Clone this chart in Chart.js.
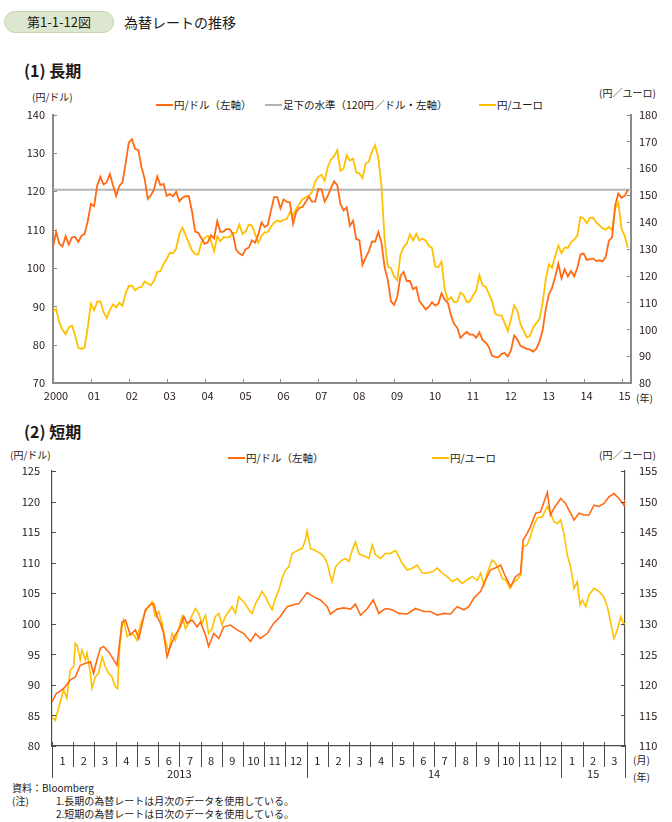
<!DOCTYPE html>
<html lang="ja">
<head>
<meta charset="utf-8">
<script src="https://cdn.jsdelivr.net/npm/chart.js@4.4.1/dist/chart.umd.min.js"></script>
<style>
  html, body { margin: 0; padding: 0; background: #fff; }
  body { width: 672px; height: 822px; position: relative; overflow: hidden;
         font-family: "Noto Sans CJK JP", sans-serif; color: #231815; }
  .t { position: absolute; white-space: nowrap; line-height: 14px; }
  .pill { position: absolute; left: 4px; top: 11px; width: 110px; height: 22px; border-radius: 11px;
          background: #dde7cf; border: 1px solid #c6d5b0; box-sizing: border-box;
          font-size: 13px; line-height: 20px; text-align: center; }
  .h2 { font-size: 16px; font-weight: bold; }
  .sm { font-size: 10px; }
  .lg { font-size: 10.5px; }
  .sw { display: inline-block; width: 17px; height: 2.5px; vertical-align: middle; margin-right: 1px; position: relative; top: -1px; }
  canvas { position: absolute; left: 0; }
</style>
</head>
<body>
<div class="pill">第1-1-12図</div>
<div class="t" style="left:124px; top:15px; font-size:14px;">為替レートの推移</div>

<div class="t h2" style="left:24px; top:63px;">(1) 長期</div>
<div class="t sm" style="left:32px; top:90px;">(円/ドル)</div>
<div class="t sm" style="left:599px; top:86px;">(円／ユーロ)</div>
<div class="t lg" style="left:156px; top:98px;"><span class="sw" style="background:#ff6a13"></span>円/ドル（左軸）</div>
<div class="t lg" style="left:265px; top:98px;"><span class="sw" style="background:#b4b4b4"></span>足下の水準（120円／ドル・左軸）</div>
<div class="t lg" style="left:479px; top:98px;"><span class="sw" style="background:#ffc000"></span>円/ユーロ</div>
<div class="t sm" style="left:636px; top:391px;">(年)</div>

<div class="t h2" style="left:24px; top:424px;">(2) 短期</div>
<div class="t sm" style="left:10px; top:448px;">(円/ドル)</div>
<div class="t sm" style="left:599px; top:448px;">(円／ユーロ)</div>
<div class="t lg" style="left:228px; top:451px;"><span class="sw" style="background:#ff6a13"></span>円/ドル（左軸）</div>
<div class="t lg" style="left:432px; top:451px;"><span class="sw" style="background:#ffc000"></span>円/ユーロ</div>
<div class="t sm" style="left:633px; top:753px;">(月)</div>
<div class="t sm" style="left:633px; top:770px;">(年)</div>

<div class="t sm" style="left:12px; top:781px;">資料：Bloomberg</div>
<div class="t sm" style="left:12px; top:794px;">(注)</div>
<div class="t sm" style="left:56px; top:794px;">1.長期の為替レートは月次のデータを使用している。</div>
<div class="t sm" style="left:56px; top:807px;">2.短期の為替レートは日次のデータを使用している。</div>

<canvas id="longChart" width="672" height="310" style="top:100px"></canvas>
<canvas id="shortChart" width="672" height="350" style="top:440px"></canvas>

<script>
// ---- (1) long term, monthly, Jan 2000 - Mar 2015 ----
const yearLabels = ['2000', '01', '02', '03', '04', '05', '06', '07', '08', '09', '10', '11', '12', '13', '14', '15'];

const usdMonthly = [
  105.3, 109.4, 106.3, 105.6, 108.3, 106.1, 108.0, 108.1, 106.8, 108.4, 108.9, 112.2,
  116.7, 116.1, 121.5, 123.8, 121.8, 122.3, 124.5, 121.5, 118.8, 121.4, 122.3, 127.3,
  132.7, 133.6, 131.0, 130.8, 126.4, 123.3, 118.0, 119.0, 120.5, 123.9, 121.6, 121.9,
  118.8, 119.3, 118.7, 119.9, 117.4, 118.3, 118.7, 118.7, 114.8, 109.5, 109.2, 107.7,
  106.3, 106.7, 108.5, 107.7, 112.2, 109.4, 109.5, 110.2, 110.1, 108.8, 104.7, 103.8,
  103.3, 104.9, 105.3, 107.2, 106.6, 108.7, 111.9, 110.7, 111.2, 114.9, 118.5, 118.5,
  115.5, 117.9, 117.3, 117.1, 111.5, 114.6, 115.7, 115.9, 117.2, 118.6, 117.3, 117.3,
  120.6, 120.5, 117.3, 118.8, 120.8, 122.6, 121.6, 116.7, 115.0, 115.8, 111.0, 112.3,
  107.6, 107.2, 100.8, 102.7, 104.4, 106.9, 106.9, 109.4, 106.6, 100.1, 96.9, 91.3,
  90.4, 92.5, 97.9, 99.0, 96.6, 96.6, 94.5, 95.0, 91.4, 90.3, 89.2, 89.9,
  91.1, 90.2, 90.7, 93.4, 91.8, 90.9, 87.7, 85.4, 84.4, 81.8, 82.6, 83.3,
  82.6, 82.6, 81.8, 83.2, 81.2, 80.5, 79.4, 77.1, 76.8, 76.7, 77.6, 77.8,
  76.9, 78.5, 82.4, 81.4, 79.7, 79.3, 78.9, 78.7, 78.2, 78.9, 80.8, 83.6,
  89.2, 93.1, 94.8, 97.7, 101.1, 97.3, 99.7, 97.8, 99.2, 97.8, 100.0, 103.5,
  103.8, 102.1, 102.3, 102.5, 101.8, 102.0, 101.7, 102.9, 107.1, 108.0, 116.3, 119.4,
  118.3, 118.8, 120.4
];

const eurMonthly = [
  106.5, 107.6, 102.6, 99.9, 98.1, 100.7, 101.4, 97.8, 93.1, 92.7, 93.3, 100.6,
  109.6, 107.1, 110.3, 110.4, 106.5, 104.3, 107.2, 109.3, 108.2, 109.9, 108.7, 113.4,
  116.2, 116.3, 114.6, 115.5, 115.8, 117.8, 117.1, 116.4, 118.2, 121.4, 121.6, 124.3,
  126.2, 128.5, 128.3, 130.1, 135.7, 137.9, 135.0, 132.2, 129.4, 128.0, 127.9, 132.4,
  134.1, 134.9, 133.0, 129.1, 134.6, 132.8, 134.4, 134.2, 134.5, 135.9, 136.0, 139.1,
  135.5, 136.5, 139.0, 138.7, 135.4, 132.3, 134.7, 136.1, 136.2, 138.2, 139.7, 140.5,
  140.1, 140.8, 141.1, 143.7, 142.4, 145.0, 146.7, 148.5, 149.2, 149.7, 151.1, 155.0,
  156.8, 157.6, 155.3, 160.5, 163.2, 164.5, 166.8, 159.0, 159.9, 164.8, 162.9, 163.6,
  158.4, 158.1, 156.4, 161.8, 162.5, 166.3, 168.6, 163.9, 153.2, 133.3, 123.4, 122.8,
  119.7, 118.3, 127.7, 130.6, 131.9, 135.4, 133.1, 135.6, 133.1, 133.8, 133.0, 131.1,
  130.3, 123.4, 123.1, 125.3, 115.3, 110.9, 112.0, 110.1, 110.3, 113.7, 112.8, 110.1,
  110.4, 112.7, 114.4, 120.2, 116.3, 115.9, 113.3, 110.6, 105.8, 105.2, 105.2, 102.3,
  99.3, 103.8, 108.9, 107.1, 101.9, 99.5, 97.0, 97.6, 100.6, 102.3, 103.7, 109.7,
  118.6, 124.2, 122.9, 127.2, 131.2, 128.4, 130.5, 130.3, 132.4, 133.4, 134.9, 141.8,
  141.3, 139.5, 141.5, 141.6, 139.8, 138.7, 137.7, 137.1, 138.2, 136.8, 145.0, 147.2,
  137.5, 134.8, 130.4
];

const currentLevel = 120.4; // 足下の水準 (円/ドル)

// ---- (2) short term, daily readings, Jan 2013 - Mar 2015 (position in months) ----
const monthLabels = ['1', '2', '3', '4', '5', '6', '7', '8', '9', '10', '11', '12',
                     '1', '2', '3', '4', '5', '6', '7', '8', '9', '10', '11', '12',
                     '1', '2', '3'];
const yearNames = ['2013', '14', '15'];
const yearMonths = [12, 12, 3];

const usdDailyPos = [
  0, 0.2, 0.39, 0.6, 0.86, 1.1, 1.33, 1.55, 1.81, 1.96,
  2.12, 2.28, 2.43, 2.67, 2.91, 3.06, 3.19, 3.3, 3.46, 3.69,
  3.93, 4.09, 4.24, 4.4, 4.63, 4.79, 4.95, 5.11, 5.26, 5.42,
  5.58, 5.81, 6.05, 6.21, 6.36, 6.6, 6.84, 6.99, 7.23, 7.38,
  7.62, 7.86, 8.09, 8.41, 8.72, 9.04, 9.35, 9.59, 9.82, 10.14,
  10.45, 10.76, 11.08, 11.39, 11.63, 12.02, 12.34, 12.65, 12.97, 13.12,
  13.44, 13.75, 14.07, 14.3, 14.54, 14.86, 15.14, 15.4, 15.71, 16.03,
  16.34, 16.74, 17.13, 17.52, 17.84, 18.15, 18.46, 18.78, 19.09, 19.41,
  19.64, 19.88, 20.2, 20.43, 20.66, 20.98, 21.14, 21.37, 21.61, 21.84,
  22.08, 22.2, 22.39, 22.55, 22.79, 23.02, 23.34, 23.49, 23.65, 23.97,
  24.2, 24.36, 24.6, 24.83, 25.07, 25.3, 25.54, 25.77, 26.01, 26.25,
  26.48, 26.72, 26.95, 27
];
const usdDaily = [
  87.2, 88.6, 89.0, 89.6, 90.8, 91.3, 93.2, 93.5, 93.8, 91.9,
  94.1, 96.0, 96.3, 95.4, 94.1, 93.2, 97.0, 100.3, 100.6, 98.2,
  99.0, 97.6, 99.8, 102.3, 103.1, 103.3, 101.2, 100.1, 98.4, 94.6,
  96.3, 98.2, 99.5, 101.2, 100.1, 100.6, 99.5, 100.3, 98.2, 96.3,
  98.4, 97.6, 99.5, 99.8, 99.0, 98.4, 97.1, 98.4, 97.6, 98.4,
  100.1, 101.2, 102.8, 103.1, 103.3, 105.1, 104.4, 103.9, 102.8, 101.6,
  102.4, 102.6, 102.4, 103.2, 101.4, 102.5, 103.9, 101.7, 102.5, 102.3,
  101.7, 101.6, 102.5, 102.0, 102.0, 101.4, 101.7, 101.6, 102.8, 102.3,
  102.8, 104.2, 105.3, 107.2, 108.8, 109.3, 109.6, 107.7, 106.1, 107.7,
  108.3, 113.7, 114.8, 115.9, 118.1, 118.3, 121.5, 117.8, 118.9, 120.5,
  119.7, 118.6, 117.0, 118.1, 117.8, 117.8, 119.4, 119.2, 119.7, 120.8,
  121.3, 120.5, 119.4, 120.3
];

const eurDailyPos = [
  0, 0.15, 0.39, 0.55, 0.7, 0.86, 1.02, 1.1, 1.18, 1.33,
  1.41, 1.57, 1.65, 1.81, 1.88, 2.04, 2.2, 2.36, 2.51, 2.67,
  2.83, 2.98, 3.09, 3.19, 3.3, 3.38, 3.54, 3.69, 3.85, 4.01,
  4.16, 4.4, 4.56, 4.71, 4.87, 5.03, 5.19, 5.34, 5.5, 5.66,
  5.81, 5.97, 6.13, 6.29, 6.44, 6.6, 6.76, 6.91, 7.07, 7.23,
  7.38, 7.54, 7.7, 7.86, 8.01, 8.17, 8.33, 8.48, 8.64, 8.8,
  8.95, 9.11, 9.27, 9.43, 9.59, 9.74, 9.9, 10.06, 10.21, 10.37,
  10.53, 10.69, 10.84, 11.0, 11.16, 11.31, 11.47, 11.63, 11.79, 11.94,
  12.02, 12.18, 12.34, 12.49, 12.65, 12.81, 12.97, 13.12, 13.2, 13.36,
  13.51, 13.67, 13.83, 13.99, 14.15, 14.3, 14.46, 14.54, 14.77, 14.93,
  15.09, 15.24, 15.48, 15.71, 15.95, 16.19, 16.34, 16.5, 16.74, 16.97,
  17.21, 17.44, 17.68, 17.92, 18.15, 18.39, 18.62, 18.86, 19.09, 19.33,
  19.56, 19.8, 20.04, 20.2, 20.35, 20.51, 20.74, 20.9, 21.06, 21.22,
  21.37, 21.58, 21.77, 21.92, 22.08, 22.2, 22.39, 22.55, 22.71, 22.87,
  23.1, 23.34, 23.49, 23.65, 23.81, 23.97, 24.12, 24.28, 24.44, 24.6,
  24.75, 24.88, 24.99, 25.15, 25.3, 25.54, 25.77, 26.01, 26.17, 26.33,
  26.48, 26.64, 26.8, 26.95, 27
];
const eurDaily = [
  114.8, 114.2, 117.2, 119.2, 117.8, 122.4, 123.0, 126.8, 126.5, 124.1,
  125.7, 124.1, 125.2, 121.9, 119.4, 121.3, 121.9, 124.6, 123.0, 121.9,
  121.3, 119.7, 119.4, 126.3, 129.5, 130.6, 127.9, 128.4, 128.2, 127.3,
  129.8, 132.0, 132.8, 133.6, 131.2, 132.0, 130.1, 127.3, 125.4, 128.4,
  127.3, 129.2, 131.2, 129.2, 130.1, 131.4, 132.5, 131.7, 130.1, 131.4,
  128.4, 129.2, 131.2, 131.7, 129.8, 131.2, 132.0, 132.8, 131.7, 134.4,
  133.9, 133.3, 132.3, 131.7, 133.3, 134.2, 135.3, 134.4, 133.3, 132.3,
  134.2, 135.5, 137.4, 138.8, 139.3, 141.5, 141.8, 142.1, 142.3, 143.7,
  145.2, 142.3, 142.1, 141.8, 141.5, 141.0, 139.9, 137.7, 136.9, 139.3,
  139.9, 140.4, 140.7, 140.2, 142.1, 143.4, 141.5, 141.3, 141.0, 140.7,
  142.9, 141.3, 140.7, 141.5, 141.5, 142.0, 141.0, 139.9, 138.8, 139.1,
  139.6, 138.3, 138.3, 138.5, 139.1, 138.3, 137.7, 136.9, 137.4, 136.6,
  137.2, 137.7, 137.1, 138.3, 136.3, 138.3, 140.4, 139.9, 138.8, 137.4,
  137.2, 135.8, 136.9, 137.2, 138.0, 142.6, 142.9, 144.3, 146.2, 147.3,
  147.5, 149.2, 148.1, 146.7, 146.4, 147.0, 144.8, 141.3, 139.3, 135.8,
  136.9, 133.1, 133.9, 132.8, 134.7, 135.8, 135.3, 134.4, 132.8, 130.1,
  127.6, 129.0, 131.2, 129.8, 130.1
];

const ORANGE = '#ff6a13';
const YELLOW = '#ffc000';
const GREY = '#b4b4b4';
const TXT = '#231815';
const NUM_FONT = "'Liberation Sans Narrow', 'Noto Sans CJK JP', sans-serif";

// small tick marks pointing into the plot area
const innerTicks = {
  id: 'innerTicks',
  afterDraw(chart, args, opts) {
    const ctx = chart.ctx;
    const a = chart.chartArea;
    const len = opts.len || 4;
    ctx.save();
    ctx.strokeStyle = opts.color || '#7f7f7f';
    ctx.lineWidth = 1;
    ctx.beginPath();
    chart.scales.y.ticks.forEach(t => {
      const py = Math.round(chart.scales.y.getPixelForValue(t.value)) + 0.5;
      ctx.moveTo(a.left, py); ctx.lineTo(a.left + len, py);
    });
    chart.scales.y1.ticks.forEach(t => {
      const py = Math.round(chart.scales.y1.getPixelForValue(t.value)) + 0.5;
      ctx.moveTo(a.right, py); ctx.lineTo(a.right - len, py);
    });
    (opts.xValues || []).forEach(v => {
      const px = Math.round(chart.scales.x.getPixelForValue(v)) + 0.5;
      ctx.moveTo(px, a.bottom); ctx.lineTo(px, a.bottom - len);
    });
    ctx.stroke();
    ctx.restore();
  }
};

// month separators and year row under the short-term chart
const yearRow = {
  id: 'yearRow',
  afterDraw(chart) {
    const ctx = chart.ctx;
    const a = chart.chartArea;
    const s = chart.scales.x;
    const edges = [0];
    yearMonths.forEach(n => edges.push(edges[edges.length - 1] + n));
    ctx.save();
    ctx.strokeStyle = '#4d4d4d';
    ctx.lineWidth = 1;
    ctx.beginPath();
    for (let m = 0; m <= monthLabels.length; m++) {
      const px = Math.round(s.getPixelForValue(m)) + 0.5;
      const long = edges.includes(m);
      ctx.moveTo(px, a.bottom);
      ctx.lineTo(px, a.bottom + (long ? 32 : 21));
    }
    ctx.stroke();
    ctx.fillStyle = TXT;
    ctx.font = '11px ' + NUM_FONT;
    ctx.textAlign = 'center';
    ctx.textBaseline = 'middle';
    yearNames.forEach((name, i) => {
      const c = (edges[i] + edges[i + 1]) / 2;
      ctx.fillText(name, s.getPixelForValue(c), a.bottom + 28);
    });
    ctx.restore();
  }
};

const lineStyle = { borderWidth: 1.8, pointRadius: 0, tension: 0, fill: false };

// ---- long chart ----
new Chart(document.getElementById('longChart'), {
  type: 'line',
  data: {
    datasets: [
      { label: '円/ドル（左軸）', data: usdMonthly.map((v, i) => ({ x: i, y: v })),
        borderColor: ORANGE, yAxisID: 'y', ...lineStyle },
      { label: '円/ユーロ', data: eurMonthly.map((v, i) => ({ x: i, y: v })),
        borderColor: YELLOW, yAxisID: 'y1', ...lineStyle },
      { label: '足下の水準（120円／ドル・左軸）',
        data: [{ x: 0, y: currentLevel }, { x: yearLabels.length * 12 - 9, y: currentLevel }],
        borderColor: GREY, yAxisID: 'y', ...lineStyle, borderWidth: 2.2 }
    ]
  },
  options: {
    responsive: false,
    animation: false,
    layout: { padding: { top: 14, left: 0, right: 0, bottom: 0 } },
    plugins: { legend: { display: false }, tooltip: { enabled: false },
               innerTicks: { len: 4, color: '#8a8a8a', xValues: yearLabels.map((_, i) => i * 12) } },
    scales: {
      x: {
        type: 'linear', min: 0, max: yearLabels.length * 12 - 9,
        grid: { display: false, drawTicks: false },
        border: { display: true, color: '#8a8a8a', width: 2 },
        afterBuildTicks: s => { s.ticks = yearLabels.map((_, i) => ({ value: i * 12 })); },
        ticks: { autoSkip: false, maxRotation: 0, padding: 6, labelOffset: 3, color: TXT,
                 font: { family: NUM_FONT, size: 11 },
                 callback: v => yearLabels[v / 12] },
        afterFit: s => { s.height = 27; }
      },
      y: {
        position: 'left', min: 70, max: 140,
        grid: { display: false, drawTicks: false },
        border: { display: true, color: '#8a8a8a', width: 2 },
        ticks: { stepSize: 10, padding: 8, color: TXT, font: { family: NUM_FONT, size: 11 } },
        afterFit: s => { s.width = 53; }
      },
      y1: {
        position: 'right', min: 80, max: 180,
        grid: { display: false, drawTicks: false },
        border: { display: true, color: '#8a8a8a', width: 2 },
        ticks: { stepSize: 10, padding: 8, color: TXT, font: { family: NUM_FONT, size: 11 } },
        afterFit: s => { s.width = 41; }
      }
    }
  },
  plugins: [innerTicks]
});

// ---- short chart ----
new Chart(document.getElementById('shortChart'), {
  type: 'line',
  data: {
    datasets: [
      { label: '円/ドル（左軸）', data: usdDailyPos.map((p, i) => ({ x: p, y: usdDaily[i] })),
        borderColor: ORANGE, yAxisID: 'y', ...lineStyle, borderWidth: 1.6 },
      { label: '円/ユーロ', data: eurDailyPos.map((p, i) => ({ x: p, y: eurDaily[i] })),
        borderColor: YELLOW, yAxisID: 'y1', ...lineStyle, borderWidth: 1.6 }
    ]
  },
  options: {
    responsive: false,
    animation: false,
    layout: { padding: { top: 31, left: 0, right: 0, bottom: 0 } },
    plugins: { legend: { display: false }, tooltip: { enabled: false },
               innerTicks: { len: 4, color: '#4d4d4d', xValues: monthLabels.map((_, i) => i) } },
    scales: {
      x: { type: 'linear', display: false, min: 0, max: monthLabels.length },
      xm: {
        type: 'category', labels: monthLabels, position: 'bottom', offset: true,
        grid: { display: false, drawTicks: false },
        border: { display: true, color: '#4d4d4d', width: 1.2 },
        ticks: { autoSkip: false, maxRotation: 0, padding: 8, color: TXT,
                 font: { family: NUM_FONT, size: 11 } },
        afterFit: s => { s.height = 44; }
      },
      y: {
        position: 'left', min: 80, max: 125,
        grid: { display: false, drawTicks: false },
        border: { display: true, color: '#4d4d4d', width: 1.2 },
        ticks: { stepSize: 5, padding: 12, color: TXT, font: { family: NUM_FONT, size: 11 } },
        afterFit: s => { s.width = 52; }
      },
      y1: {
        position: 'right', min: 110, max: 155,
        grid: { display: false, drawTicks: false },
        border: { display: true, color: '#4d4d4d', width: 1.2 },
        ticks: { stepSize: 5, padding: 14, color: TXT, font: { family: NUM_FONT, size: 11 } },
        afterFit: s => { s.width = 47; }
      }
    }
  },
  plugins: [innerTicks, yearRow]
});
</script>
</body>
</html>
